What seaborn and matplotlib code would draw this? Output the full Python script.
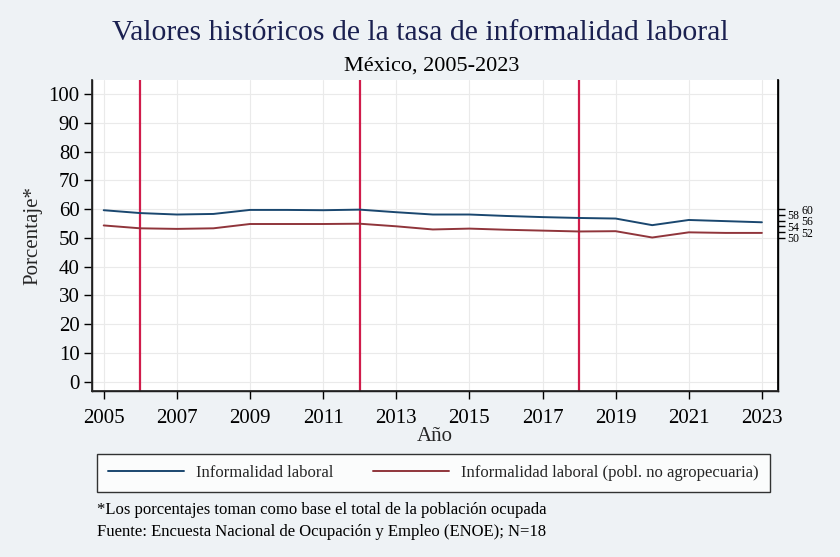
import pandas as pd
import seaborn as sns
import matplotlib.pyplot as plt

years = list(range(2005, 2024))
informalidad = [59.6, 58.6, 58.1, 58.3, 59.7, 59.7, 59.6, 59.8, 58.9, 58.1,
                58.1, 57.6, 57.2, 56.9, 56.7, 54.4, 56.2, 55.8, 55.4]
informalidad_no_agro = [54.3, 53.3, 53.1, 53.3, 54.8, 54.8, 54.8, 54.9, 54.0, 52.9,
                        53.2, 52.8, 52.5, 52.2, 52.3, 50.1, 51.9, 51.7, 51.7]
series_names = ["Informalidad laboral", "Informalidad laboral (pobl. no agropecuaria)"]
cortes = [2006, 2012, 2018]

df = pd.DataFrame({
    "year": years * 2,
    "value": informalidad + informalidad_no_agro,
    "serie": [series_names[0]] * len(years) + [series_names[1]] * len(years),
})

sns.set_theme(style="white")
plt.rcParams["font.family"] = ["Liberation Serif", "DejaVu Serif"]

bg = "#eef2f5"
fig = plt.figure(figsize=(8.4, 5.57), dpi=100, facecolor=bg)
ax = fig.add_axes([92 / 840, 1 - 391 / 557, (778 - 92) / 840, (391 - 80) / 557])
ax.set_facecolor("white")

ax.grid(True, color="#eaeaea", linewidth=0.8)
for c in cortes:
    ax.axvline(c, color="#d01c4b", linewidth=1.6, zorder=2)

sns.lineplot(data=df, x="year", y="value", hue="serie",
             palette=["#1a476f", "#90353b"], linewidth=1.4, ax=ax, legend=False, zorder=3)

ax.set_xlim(2004.68, 2023.44)
ax.set_ylim(-3.3, 104.9)
ax.set_xticks(range(2005, 2024, 2))
ax.set_yticks(range(0, 101, 10))
ax.tick_params(axis="both", labelsize=15, length=6, width=1, color="black",
               direction="out", colors="black", left=True, bottom=True)
ax.tick_params(axis="y", pad=3)
ax.tick_params(axis="x", pad=7)
ax.set_xlabel("Año", fontsize=15, labelpad=-1)
ax.set_ylabel("Porcentaje*", fontsize=15, labelpad=4)

for s in ["left", "bottom", "right"]:
    ax.spines[s].set_color("black")
    ax.spines[s].set_linewidth(1)
ax.spines["top"].set_visible(False)

# right-hand axis with staggered small labels
ax2 = ax.twinx()
ax2.set_ylim(ax.get_ylim())
ax2.set_yticks(range(50, 61, 2))
ax2.set_yticklabels(["50", "", "54", "", "58", ""], fontsize=8.5)
ax2.tick_params(axis="y", length=5, width=1, pad=2, colors="black")
ax2.spines["top"].set_visible(False)
ax2.spines["right"].set_color("black")
ax3 = ax.twinx()
ax3.set_ylim(ax.get_ylim())
ax3.set_yticks(range(52, 61, 4))
ax3.set_yticklabels(["52", "56", "60"], fontsize=8.5)
ax3.tick_params(axis="y", length=0, pad=17, colors="black")
for s in ax3.spines.values():
    s.set_visible(False)
ax2.grid(False)
ax3.grid(False)

fig.text(0.5, 1 - 33 / 557, "Valores históricos de la tasa de informalidad laboral",
         ha="center", va="center", fontsize=21.4, color="#1a2050")
fig.text(432 / 840, 1 - 66 / 557, "México, 2005-2023", ha="center", va="center",
         fontsize=16, color="black")

handles = [plt.Line2D([], [], color="#1a476f", linewidth=1.4),
           plt.Line2D([], [], color="#90353b", linewidth=1.4)]
leg = fig.legend(handles, series_names, loc="upper left", ncol=2,
                 bbox_to_anchor=(97 / 840, 1 - 454 / 557),
                 fontsize=12, handlelength=4.55, handletextpad=0.75,
                 frameon=True, fancybox=False, edgecolor="black",
                 borderaxespad=0, borderpad=0.65, columnspacing=2.35)
leg.get_frame().set_linewidth(1)
leg.get_frame().set_facecolor("white")

fig.text(97 / 840, 1 - 510 / 557, "*Los porcentajes toman como base el total de la población ocupada",
         ha="left", va="center", fontsize=12, color="black")
fig.text(97 / 840, 1 - 532 / 557, "Fuente: Encuesta Nacional de Ocupación y Empleo (ENOE); N=18",
         ha="left", va="center", fontsize=12, color="black")

fig.savefig("out.png", dpi=100, facecolor=bg)
